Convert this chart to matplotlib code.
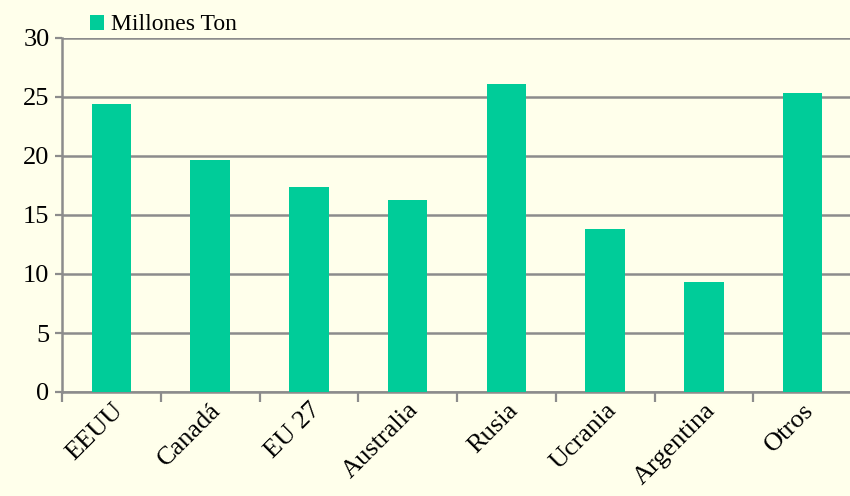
import matplotlib
matplotlib.use("Agg")
import matplotlib.pyplot as plt
import numpy as np

paises = ["EEUU", "Canadá", "EU 27", "Australia", "Rusia", "Ucrania", "Argentina", "Otros"]
millones_ton = [24.4, 19.7, 17.4, 16.3, 26.1, 13.8, 9.3, 25.3]
yticks = [0, 5, 10, 15, 20, 25, 30]

FONDO = "#FFFFEB"
VERDE = "#00CC99"
GRIS = "#8C8C8C"

plt.rcParams["font.family"] = ["Liberation Serif", "DejaVu Serif"]

fig = plt.figure(figsize=(8.5, 4.96), dpi=100, facecolor=FONDO)
ax = fig.add_axes([62 / 850, 1 - 392 / 496, 790 / 850, 354 / 496])
ax.set_facecolor(FONDO)

x = np.arange(len(paises))
ax.bar(x, millones_ton, width=0.4, color=VERDE, label="Millones Ton", zorder=3)

ax.set_ylim(0, 30)
ax.set_xlim(-0.5, len(paises) - 0.5)
ax.set_yticks(yticks)
ax.yaxis.grid(True, color=GRIS, lw=1.8, zorder=0)
ax.tick_params(axis="y", labelsize=19, length=5, width=1.6, color=GRIS, pad=4)

# marcas entre categorías, etiquetas en el centro
ax.set_xticks(np.arange(-0.5, len(paises), 1.0))
ax.set_xticklabels([])
ax.set_xticks(x, minor=True)
ax.set_xticklabels(paises, minor=True, rotation=45, ha="right",
                   rotation_mode="anchor", fontsize=19)
ax.tick_params(axis="x", which="major", length=7, width=1.6, color=GRIS)
ax.tick_params(axis="x", which="minor", length=0, pad=5)

for lado in ["top", "right"]:
    ax.spines[lado].set_visible(False)
for lado in ["left", "bottom"]:
    ax.spines[lado].set_color(GRIS)
    ax.spines[lado].set_linewidth(1.8)

fig.legend(loc="upper left", bbox_to_anchor=(0.095, 0.99), frameon=False,
           fontsize=17, handlelength=0.6, handleheight=0.6, handletextpad=0.3,
           borderaxespad=0)

fig.savefig("out.png", dpi=100, facecolor=FONDO)
